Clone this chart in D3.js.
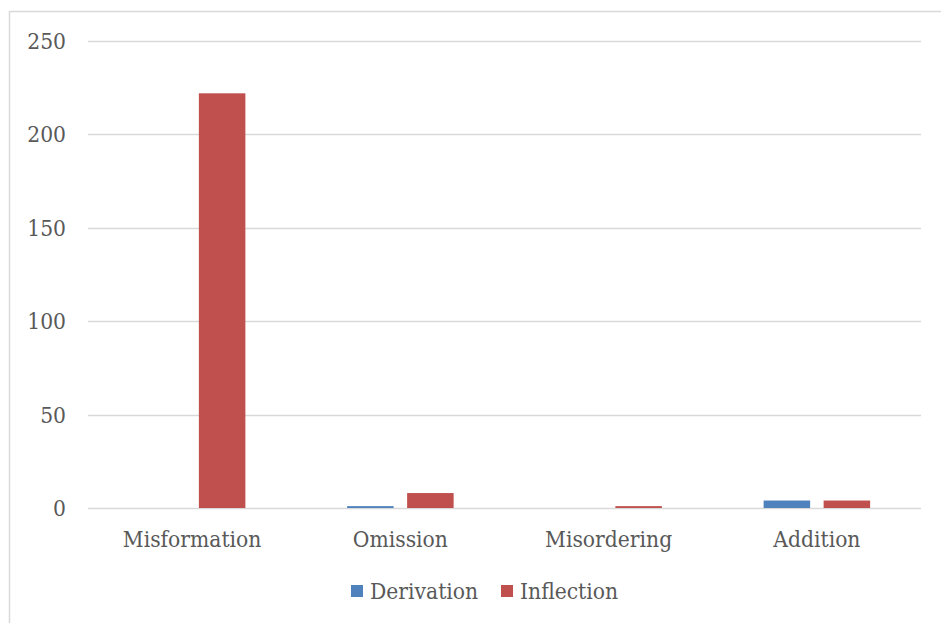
<!DOCTYPE html>
<html>
<head>
<meta charset="utf-8">
<script src="https://cdn.jsdelivr.net/npm/d3@7"></script>
<style>
  html, body { margin: 0; padding: 0; background: #fff; }
  svg { display: block; }
  text { font-family: "DejaVu Serif Condensed", "DejaVu Serif", serif; font-stretch: condensed; fill: #595959; }
</style>
</head>
<body>
<svg id="chart" width="941" height="623"></svg>
<script>
// Error counts by type, split into derivational and inflectional errors
const categories = ["Misformation", "Omission", "Misordering", "Addition"];
const seriesNames = ["Derivation", "Inflection"];
const derivation = [0, 1, 0, 4];
const inflection = [222, 8, 1, 4];
const yTicks = [0, 50, 100, 150, 200, 250];
const colors = ["#4f81bd", "#c0504d"];

const svg = d3.select("#chart");
const W = 941, H = 623;
const fontSize = 22.6;

// Chart frame
svg.append("rect")
  .attr("x", 9.5).attr("y", 11.5)
  .attr("width", W + 10).attr("height", H + 10)
  .attr("fill", "#fff").attr("stroke", "#d9d9d9").attr("stroke-width", 1.5);

const x = d3.scaleBand().domain(categories).range([88, 921]).paddingInner(0).paddingOuter(0);
const y = d3.scaleLinear().domain([0, 250]).range([508, 41]);

// Horizontal gridlines
svg.append("g").selectAll("line").data(yTicks).join("line")
  .attr("x1", 88).attr("x2", 921)
  .attr("y1", d => Math.round(y(d)) + 0.5).attr("y2", d => Math.round(y(d)) + 0.5)
  .attr("stroke", "#d9d9d9").attr("stroke-width", 1.3);

// Y tick labels
svg.append("g").selectAll("text").data(yTicks).join("text")
  .attr("x", 66).attr("y", d => y(d))
  .attr("dy", "0.35em")
  .attr("text-anchor", "end")
  .attr("font-size", fontSize)
  .text(d => d);

// Bars: two per category
const barW = 46.5, innerGap = 13.5;
const groupW = barW * 2 + innerGap;
const data = [];
categories.forEach((c, i) => {
  [derivation[i], inflection[i]].forEach((v, s) => {
    data.push({ c, s, v });
  });
});
svg.append("g").selectAll("rect").data(data).join("rect")
  .attr("x", d => x(d.c) + (x.bandwidth() - groupW) / 2 + d.s * (barW + innerGap))
  .attr("width", barW)
  .attr("y", d => y(d.v))
  .attr("height", d => y(0) - y(d.v))
  .attr("fill", d => colors[d.s]);

// Category labels
svg.append("g").selectAll("text").data(categories).join("text")
  .attr("x", d => x(d) + x.bandwidth() / 2)
  .attr("y", 547)
  .attr("text-anchor", "middle")
  .attr("font-size", fontSize)
  .text(d => d);

// Legend
const legend = svg.append("g");
const legendX = [351, 501];
seriesNames.forEach((name, i) => {
  legend.append("rect")
    .attr("x", legendX[i]).attr("y", 585)
    .attr("width", 12).attr("height", 12)
    .attr("fill", colors[i]);
  legend.append("text")
    .attr("x", legendX[i] + 19).attr("y", 599)
    .attr("font-size", fontSize)
    .text(name);
});
</script>
</body>
</html>
